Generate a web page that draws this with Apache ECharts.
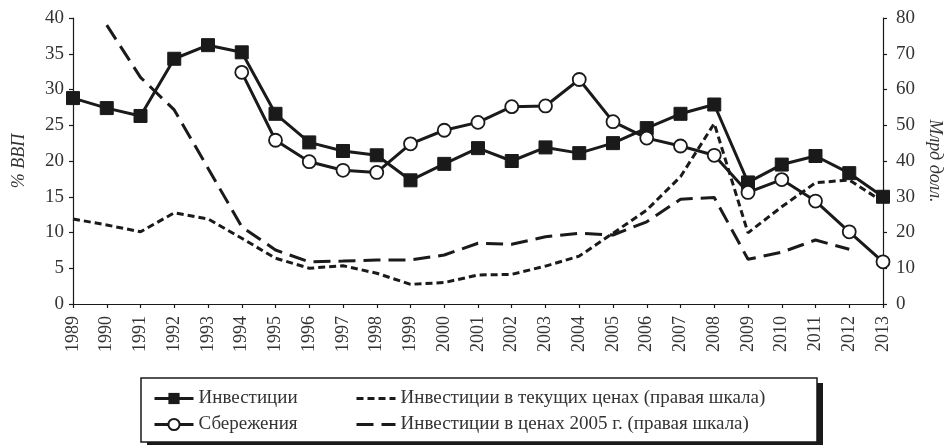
<!DOCTYPE html>
<html>
<head>
<meta charset="utf-8">
<script src="https://cdn.jsdelivr.net/npm/echarts@6/dist/echarts.min.js"></script>
<style>
  html, body { margin: 0; padding: 0; background: #fff; }
  #chart { width: 947px; height: 445px; }
</style>
</head>
<body>
<div id="chart"></div>
<script>
// годы
const years = ["1989", "1990", "1991", "1992", "1993", "1994", "1995", "1996", "1997", "1998",
  "1999", "2000", "2001", "2002", "2003", "2004", "2005", "2006", "2007", "2008",
  "2009", "2010", "2011", "2012", "2013"];

// % ВВП (левая шкала)
const investments = [28.8, 27.4, 26.3, 34.3, 36.2, 35.2, 26.6, 22.6, 21.4, 20.8,
  17.3, 19.6, 21.8, 20.0, 21.9, 21.1, 22.5, 24.6, 26.6, 27.9,
  17.0, 19.5, 20.7, 18.3, 15.0];
const savings = [null, null, null, null, null, 32.4, 22.9, 19.9, 18.7, 18.4,
  22.4, 24.3, 25.4, 27.6, 27.7, 31.4, 25.5, 23.2, 22.1, 20.8,
  15.6, 17.4, 14.4, 10.1, 5.9];

// млрд долл. (правая шкала)
const invCurrent = [23.8, 22.1, 20.2, 25.5, 23.8, 18.4, 12.8, 10.0, 10.7, 8.6,
  5.5, 6.0, 8.1, 8.3, 10.6, 13.4, 19.8, 26.3, 35.6, 50.5,
  19.9, 27.2, 33.9, 34.7, 28.6];
const inv2005 = [null, 78.0, 63.4, 54.3, 38.0, 21.6, 15.1, 11.8, 12.0, 12.3,
  12.3, 13.7, 17.0, 16.7, 18.8, 19.8, 19.3, 23.0, 29.3, 29.8,
  12.5, 14.5, 17.9, 15.3, null];

const FONT = "Liberation Serif";
const INK = "#1a1a1a";
const TXT = "#333";

const chart = echarts.init(document.getElementById("chart"), null, { renderer: "canvas" });

const axisCommon = {
  axisLine: { show: true, lineStyle: { color: INK, width: 1.2 } },
  axisTick: { show: true, length: 4, lineStyle: { color: INK, width: 1.2 } },
  splitLine: { show: false },
  axisLabel: { color: TXT, fontFamily: FONT, fontSize: 19, margin: 9 },
  nameTextStyle: { color: TXT, fontFamily: FONT, fontSize: 18, fontStyle: "italic" },
};

const legendCommon = {
  orient: "vertical",
  top: 389,
  padding: 0,
  itemWidth: 39,
  itemHeight: 14,
  itemGap: 7,
  lineStyle: { width: 3 },
  textStyle: { color: TXT, fontFamily: FONT, fontSize: 19, lineHeight: 19 },
};

const options = {
  animation: false,
  backgroundColor: "#fff",
  grid: { left: 73, right: 64, top: 18, bottom: 141, outerBoundsMode: "none", containLabel: false },
  // рамка легенды с тенью справа
  graphic: [
    {
      type: "rect",
      z: 1,
      shape: { x: 147, y: 383, width: 676, height: 64 },
      style: { fill: INK },
    },
    {
      type: "rect",
      z: 2,
      shape: { x: 141, y: 378, width: 676, height: 64 },
      style: { fill: "#fff", stroke: INK, lineWidth: 1.5 },
    },
  ],
  legend: [
    {
      ...legendCommon,
      left: 153,
      data: ["Инвестиции", "Сбережения"],
    },
    {
      ...legendCommon,
      left: 355,
      itemStyle: { opacity: 0 },
      data: ["Инвестиции в текущих ценах (правая шкала)", "Инвестиции в ценах 2005 г. (правая шкала)"],
    },
  ],
  xAxis: {
    type: "category",
    data: years,
    boundaryGap: false,
    ...axisCommon,
    axisLabel: { ...axisCommon.axisLabel, fontSize: 18, rotate: 90, margin: 12, interval: 0 },
    axisTick: { ...axisCommon.axisTick, alignWithLabel: true, interval: 0 },
  },
  yAxis: [
    {
      type: "value",
      min: 0,
      max: 40,
      interval: 5,
      name: "% ВВП",
      nameLocation: "middle",
      nameGap: 45,
      ...axisCommon,
    },
    {
      type: "value",
      min: 0,
      max: 80,
      interval: 10,
      position: "right",
      name: "Млрд долл.",
      nameLocation: "middle",
      nameGap: 42,
      nameRotate: -90,
      ...axisCommon,
      axisLabel: { ...axisCommon.axisLabel, margin: 13 },
    },
  ],
  series: [
    {
      name: "Инвестиции",
      type: "line",
      data: investments,
      yAxisIndex: 0,
      symbol: "rect",
      symbolSize: 13,
      z: 5,
      itemStyle: { color: INK, borderColor: INK },
      lineStyle: { color: INK, width: 3 },
    },
    {
      name: "Сбережения",
      type: "line",
      data: savings,
      yAxisIndex: 0,
      symbol: "circle",
      symbolSize: 13,
      showAllSymbol: true,
      z: 5,
      itemStyle: { color: "#fff", borderColor: INK, borderWidth: 1.8 },
      lineStyle: { color: INK, width: 3 },
    },
    {
      name: "Инвестиции в текущих ценах (правая шкала)",
      type: "line",
      data: invCurrent,
      yAxisIndex: 1,
      symbol: "none",
      z: 3,
      itemStyle: { color: INK },
      lineStyle: { color: INK, width: 3, type: [7, 4] },
    },
    {
      name: "Инвестиции в ценах 2005 г. (правая шкала)",
      type: "line",
      data: inv2005,
      yAxisIndex: 1,
      symbol: "none",
      z: 3,
      itemStyle: { color: INK },
      lineStyle: { color: INK, width: 3, type: [17, 8] },
    },
  ],
};

chart.setOption(options);
window.addEventListener("resize", () => chart.resize());
</script>
</body>
</html>
